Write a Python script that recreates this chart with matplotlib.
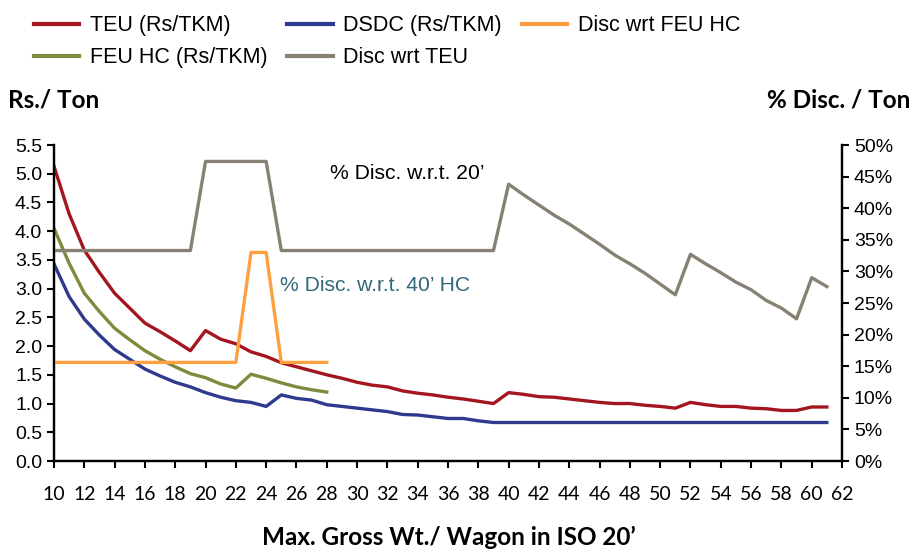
import matplotlib.pyplot as plt
from matplotlib.ticker import MultipleLocator, PercentFormatter
from matplotlib.lines import Line2D

# datos
gross_wt = list(range(10, 62))
gross_wt_hc = list(range(10, 29))

teu = [5.13, 4.30, 3.67, 3.28, 2.92, 2.66, 2.40, 2.25, 2.09, 1.92,
       2.27, 2.12, 2.04, 1.90, 1.82, 1.71, 1.64, 1.57, 1.50, 1.44,
       1.37, 1.32, 1.29, 1.22, 1.18, 1.15, 1.11, 1.08, 1.04, 1.00,
       1.19, 1.16, 1.12, 1.11, 1.08, 1.05, 1.02, 1.00, 1.00, 0.97,
       0.95, 0.92, 1.02, 0.98, 0.95, 0.95, 0.92, 0.91, 0.88, 0.88,
       0.94, 0.94]

dsdc = [3.43, 2.86, 2.47, 2.19, 1.94, 1.77, 1.60, 1.48, 1.37, 1.29,
        1.19, 1.11, 1.05, 1.02, 0.95, 1.15, 1.09, 1.06, 0.98, 0.95,
        0.92, 0.89, 0.86, 0.81, 0.80, 0.77, 0.74, 0.74, 0.70, 0.67,
        0.67, 0.67, 0.67, 0.67, 0.67, 0.67, 0.67, 0.67, 0.67, 0.67,
        0.67, 0.67, 0.67, 0.67, 0.67, 0.67, 0.67, 0.67, 0.67, 0.67,
        0.67, 0.67]

feu_hc = [4.05, 3.44, 2.92, 2.60, 2.31, 2.11, 1.92, 1.77, 1.64, 1.52,
          1.45, 1.34, 1.27, 1.51, 1.44, 1.36, 1.29, 1.24, 1.20]

disc_teu = [33.3] * 10 + [47.4] * 5 + [33.3] * 15 + [
    43.8, 42.1, 40.5, 38.9, 37.5, 35.9, 34.3, 32.6, 31.2, 29.7,
    28.0, 26.3, 32.7, 31.2, 29.8, 28.3, 27.1, 25.4, 24.2, 22.5,
    29.0, 27.6]

disc_feu = [15.6] * 13 + [33.0, 33.0] + [15.6] * 4

etiquetas = ["TEU (Rs/TKM)", "DSDC (Rs/TKM)", "Disc wrt FEU HC",
             "FEU HC (Rs/TKM)", "Disc wrt TEU"]

c_teu = "#a3161f"
c_dsdc = "#2f3a8f"
c_feu = "#7b8c3c"
c_disc_teu = "#868173"
c_disc_feu = "#ffa040"

plt.rcParams['font.family'] = ['Liberation Sans', 'DejaVu Sans']

fig = plt.figure(figsize=(9.13, 5.5), dpi=100)
ax = fig.add_axes([54 / 913, 1 - 461 / 550, (842 - 54) / 913, (461 - 145) / 550])
ax2 = ax.twinx()

lw = 2.4
ax.plot(gross_wt, teu, color=c_teu, lw=lw)
ax.plot(gross_wt, dsdc, color=c_dsdc, lw=lw)
ax.plot(gross_wt_hc, feu_hc, color=c_feu, lw=lw)
ax2.plot(gross_wt, disc_teu, color=c_disc_teu, lw=lw)
ax2.plot(gross_wt_hc, disc_feu, color=c_disc_feu, lw=lw)

ax.set_xlim(10, 62)
ax.set_ylim(0, 5.5)
ax2.set_ylim(0, 50)
ax.xaxis.set_major_locator(MultipleLocator(2))
ax.yaxis.set_major_locator(MultipleLocator(0.5))
ax.yaxis.set_major_formatter(lambda v, p: f"{v:.1f}")
ax2.yaxis.set_major_locator(MultipleLocator(5))
ax2.yaxis.set_major_formatter(PercentFormatter(xmax=100, decimals=0))

for a in (ax, ax2):
    a.spines['top'].set_visible(False)
    for s in ('left', 'right', 'bottom'):
        a.spines[s].set_linewidth(1.6)
    a.tick_params(direction='out', length=5, width=1.5, labelsize=14)
ax.tick_params(axis='x', pad=13)
for t in ax.get_xticklabels():
    t.set_family('Lato')
    t.set_fontsize(14)

# anotaciones
ax.text(28.2, 5.01, "% Disc. w.r.t. 20\u2019", fontsize=15.2, va='center', ha='left', color='black')
ax.text(24.9, 3.05, "% Disc. w.r.t. 40\u2019 HC", fontsize=15.2, va='center', ha='left', color='#31697a')

# titulos de ejes
fig.text(8 / 913, 1 - 100 / 550, "Rs./ Ton", fontsize=17.5, fontweight='bold', family='Lato', va='center', ha='left')
fig.text(910 / 913, 1 - 100 / 550, "% Disc. / Ton", fontsize=17.5, fontweight='bold', family='Lato', va='center', ha='right')
fig.text(449 / 913, 1 - 537 / 550, "Max. Gross Wt./ Wagon in ISO 20\u2019", fontsize=17.5, fontweight='bold', family='Lato', va='center', ha='center')

# leyenda (orden por columnas)
colores = [c_teu, c_dsdc, c_disc_feu, c_feu, c_disc_teu]
handles = [Line2D([], [], color=c, lw=3) for c in colores]
orden = [0, 3, 1, 4, 2]
fig.legend([handles[i] for i in orden], [etiquetas[i] for i in orden],
           loc='upper left', bbox_to_anchor=(0.0205, 1.0), ncol=3, frameon=False,
           borderpad=0.2, handlelength=2.1, handletextpad=0.5, columnspacing=0.93,
           labelspacing=0.52, fontsize=15.5)

fig.savefig("out.png", dpi=100)
